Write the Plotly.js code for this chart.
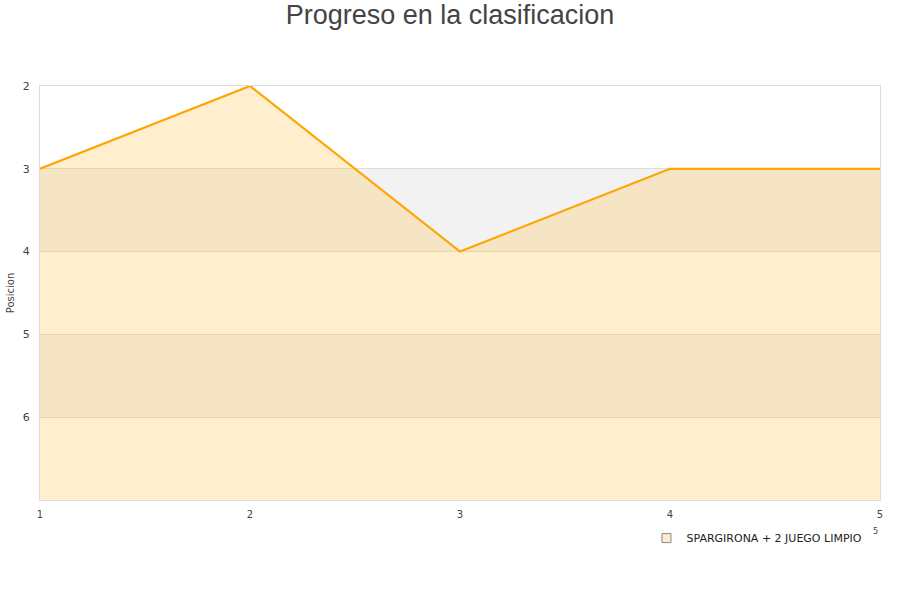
<!DOCTYPE html>
<html>
<head>
<meta charset="utf-8">
<script src="https://cdn.plot.ly/plotly-3.0.1.min.js"></script>
<style>html,body{margin:0;padding:0;background:#fff;}#chart{width:900px;height:600px;}</style>
</head>
<body>
<div id="chart"></div>
<script>
const jornadas = [1, 2, 3, 4, 5];
const posiciones = [3, 2, 4, 3, 3];
const equipo = "SPARGIRONA + 2 JUEGO LIMPIO";
const yTicks = [2, 3, 4, 5, 6];
const bandas = [[3, 4], [5, 6]];

const shapes = bandas.map(([a, b]) => ({
  type: "rect", xref: "paper", yref: "y", x0: 0, x1: 1, y0: a, y1: b,
  fillcolor: "#f2f2f2", line: { width: 0 }, layer: "below"
}));

const traces = [
  // fill baseline at the bottom of the reversed axis
  {
    x: jornadas, y: jornadas.map(() => 7), type: "scatter", mode: "lines",
    line: { width: 0 }, showlegend: false, hoverinfo: "skip"
  },
  {
    x: jornadas, y: posiciones, type: "scatter", mode: "lines",
    line: { color: "#ffa500", width: 2.2 },
    fill: "tonexty", fillcolor: "rgba(255,190,60,0.25)",
    showlegend: false, hoverinfo: "x+y"
  },
  {
    x: [null], y: [null], type: "scatter", mode: "markers", name: equipo,
    marker: { symbol: "square", size: 9, color: "#fdebc9", line: { color: "#888", width: 1 } }
  }
];

const layout = {
  width: 900, height: 600,
  margin: { l: 40, r: 20, t: 86, b: 100 },
  paper_bgcolor: "#fff", plot_bgcolor: "#fff",
  font: { family: "DejaVu Sans, sans-serif", size: 11, color: "#444" },
  title: { text: "Progreso en la clasificacion", x: 0.5, y: 0.975, yanchor: "middle",
    font: { family: "Liberation Sans, Arial, sans-serif", size: 27, color: "#444" } },
  xaxis: {
    range: [1, 5], tickvals: jornadas, ticktext: jornadas.map(String),
    showgrid: false, zeroline: false, showline: true, linecolor: "#ddd", mirror: true,
    ticks: "outside", ticklen: 5, tickcolor: "rgba(0,0,0,0)", tickfont: { size: 10, color: "#444" }
  },
  yaxis: {
    range: [7, 2], tickvals: yTicks, ticktext: yTicks.map(String),
    showgrid: true, gridcolor: "#e4dccb", zeroline: false, showline: true, linecolor: "#ddd", mirror: true,
    ticks: "outside", ticklen: 7, tickcolor: "rgba(0,0,0,0)", tickfont: { size: 11, color: "#444" },
    title: { text: "Posicion", standoff: 6, font: { size: 10, color: "#444" } }
  },
  shapes: shapes,
  showlegend: true,
  legend: { x: 0.722, xanchor: "left", y: -0.092, yanchor: "middle", orientation: "h",
    font: { size: 11, color: "#222" }, bgcolor: "rgba(0,0,0,0)", itemwidth: 30 },
  annotations: [
    { text: "5", xref: "paper", yref: "paper", x: 0.9995, y: -0.077, yanchor: "middle",
      showarrow: false, font: { size: 8, color: "#444" } }
  ]
};

Plotly.newPlot("chart", traces, layout, { displayModeBar: false, staticPlot: true });
</script>
</body>
</html>
